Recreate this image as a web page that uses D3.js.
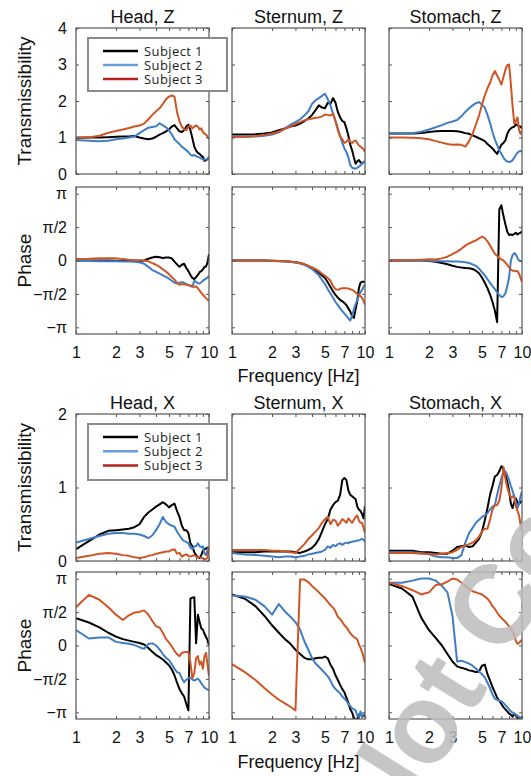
<!DOCTYPE html>
<html><head><meta charset="utf-8">
<script src="https://cdn.jsdelivr.net/npm/d3@7"></script>
<style>
body{margin:0;background:#fff}
svg text{font-family:"Liberation Sans",Arial,Helvetica,sans-serif}
</style></head><body>
<svg id="chart" width="531" height="776"></svg>
<script>
// ---------- data ----------
const freq=[1,1.25,1.5,1.75,2,2.25,2.5,2.75,3,3.25,3.5,3.75,4,4.25,4.5,4.75,5,5.25,5.5,5.75,6,6.25,6.5,6.75,7,7.25,7.5,7.75,8,8.25,8.5,8.75,9,9.25,9.5,9.75,10];

// Transmissibility, Z
const headZ_T1=[0.99,1.0,1.0,1.01,1.02,1.03,1.03,1.04,1.0,0.97,0.95,0.97,1.02,1.08,1.12,1.17,1.22,1.3,1.34,1.25,1.17,1.15,1.2,1.3,1.35,1.2,0.98,0.75,0.64,0.58,0.55,0.5,0.47,0.36,0.38,0.41,0.45];
const headZ_T2=[0.93,0.91,0.9,0.91,0.95,0.97,1.0,1.03,1.12,1.2,1.27,1.29,1.31,1.39,1.33,1.28,1.2,1.08,0.95,0.88,0.82,0.75,0.7,0.65,0.6,0.53,0.5,0.52,0.49,0.47,0.45,0.42,0.4,0.39,0.4,0.42,0.47];
const headZ_T3=[1.0,1.0,1.05,1.13,1.18,1.22,1.26,1.3,1.33,1.38,1.5,1.62,1.72,1.8,1.92,2.05,2.12,2.15,2.12,1.7,1.45,1.3,1.22,1.2,1.3,1.33,1.25,1.3,1.33,1.3,1.22,1.25,1.15,1.1,1.08,1.02,0.97];
const sternZ_T1=[1.08,1.08,1.09,1.11,1.14,1.2,1.25,1.3,1.33,1.38,1.45,1.52,1.62,1.75,1.88,1.82,1.8,1.95,1.92,2.08,1.95,1.7,1.55,1.45,1.42,1.25,1.05,0.8,0.65,0.45,0.28,0.35,0.38,0.32,0.3,0.32,0.35];
const sternZ_T2=[1.02,1.02,1.03,1.05,1.08,1.14,1.25,1.35,1.42,1.5,1.6,1.72,1.92,2.02,2.08,2.14,2.2,2.05,1.88,1.65,1.45,1.25,1.05,0.85,0.7,0.6,0.45,0.25,0.17,0.15,0.15,0.17,0.2,0.24,0.28,0.32,0.36];
const sternZ_T3=[1.02,1.02,1.04,1.07,1.11,1.16,1.24,1.3,1.37,1.42,1.47,1.5,1.52,1.54,1.55,1.58,1.63,1.62,1.6,1.66,1.45,1.2,1.02,0.95,0.85,0.88,0.95,0.88,0.85,0.9,0.92,0.85,0.78,0.75,0.72,0.68,0.6];
const stomZ_T1=[1.11,1.11,1.11,1.12,1.15,1.17,1.18,1.18,1.18,1.17,1.15,1.12,1.1,1.06,1.02,0.98,0.94,0.9,0.82,0.76,0.7,0.62,0.55,0.68,0.8,0.85,0.92,1.1,1.2,1.25,1.28,1.3,1.36,1.33,1.3,1.3,1.25];
const stomZ_T2=[1.11,1.11,1.12,1.16,1.22,1.28,1.34,1.4,1.44,1.48,1.58,1.7,1.8,1.88,1.94,1.97,1.9,1.82,1.62,1.4,1.15,0.95,0.8,0.65,0.55,0.45,0.38,0.34,0.33,0.34,0.38,0.45,0.52,0.58,0.62,0.63,0.62];
const stomZ_T3=[1.0,1.0,0.99,0.98,0.95,0.9,0.86,0.82,0.8,0.81,0.8,0.75,0.9,1.1,1.35,1.6,1.9,2.15,2.35,2.5,2.7,2.82,2.7,2.58,2.45,2.65,2.85,2.98,3.0,2.45,1.85,1.38,1.45,1.55,1.2,1.1,1.18];

// Phase, Z (radians)
const headZ_P1=[0,0,0,0,-0.01,-0.02,-0.02,-0.02,-0.02,0.0,0.08,0.14,0.18,0.15,0.12,0.14,0.14,0.1,-0.05,-0.18,-0.3,-0.2,-0.15,-0.35,-0.5,-0.68,-0.82,-0.88,-0.78,-0.68,-0.55,-0.5,-0.42,-0.3,-0.28,-0.1,0.3];
const headZ_P2=[-0.01,-0.02,-0.03,-0.03,-0.04,-0.05,-0.05,-0.06,-0.08,-0.15,-0.3,-0.45,-0.53,-0.62,-0.7,-0.77,-0.85,-0.95,-1.05,-1.08,-1.05,-1.02,-1.05,-1.12,-1.15,-1.2,-1.24,-0.95,-1.0,-1.07,-1.08,-1.02,-0.95,-0.9,-0.85,-0.8,-0.72];
const headZ_P3=[0.07,0.08,0.1,0.11,0.1,0.07,0.04,0.02,0.01,0,-0.04,-0.12,-0.2,-0.3,-0.42,-0.52,-0.65,-0.78,-0.9,-1.05,-1.14,-1.12,-1.12,-1.14,-1.16,-1.18,-1.2,-1.24,-1.22,-1.3,-1.42,-1.52,-1.6,-1.7,-1.77,-1.84,-1.9];
const sternZ_P1=[0,0,0,0,-0.01,-0.02,-0.04,-0.06,-0.08,-0.12,-0.18,-0.26,-0.35,-0.45,-0.58,-0.7,-0.82,-1.02,-1.25,-1.45,-1.62,-1.75,-1.85,-1.92,-2.0,-2.1,-2.25,-2.4,-2.6,-2.7,-2.3,-1.9,-1.3,-1.05,-1.0,-1.0,-1.02];
const sternZ_P2=[0,0,0,-0.01,-0.02,-0.03,-0.05,-0.07,-0.1,-0.14,-0.2,-0.3,-0.4,-0.55,-0.7,-0.92,-1.1,-1.35,-1.55,-1.75,-1.95,-2.1,-2.25,-2.38,-2.5,-2.6,-2.72,-2.82,-2.6,-2.3,-2.05,-1.85,-1.65,-1.5,-1.38,-1.25,-1.12];
const sternZ_P3=[0,0,0,0,-0.01,-0.02,-0.03,-0.05,-0.08,-0.12,-0.18,-0.25,-0.32,-0.4,-0.5,-0.62,-0.72,-0.82,-0.95,-1.2,-1.35,-1.38,-1.33,-1.3,-1.3,-1.3,-1.32,-1.35,-1.38,-1.43,-1.5,-1.57,-1.63,-1.68,-1.75,-1.9,-2.08];
const stomZ_P1=[0,0,0,0,-0.02,-0.06,-0.12,-0.18,-0.25,-0.3,-0.33,-0.35,-0.36,-0.4,-0.48,-0.6,-0.8,-1.05,-1.3,-1.6,-1.95,-2.35,-2.9,2.4,2.6,2.1,1.7,1.35,1.2,1.22,1.2,1.25,1.3,1.22,1.28,1.3,1.38];
const stomZ_P2=[0,0,0,0,-0.01,-0.02,-0.03,-0.04,-0.05,-0.05,-0.06,-0.08,-0.12,-0.18,-0.25,-0.38,-0.55,-0.7,-0.88,-1.05,-1.2,-1.35,-1.5,-1.62,-1.72,-1.68,-1.55,-1.2,-0.8,0.0,0.25,0.35,0.28,0.12,0.0,-0.03,-0.05];
const stomZ_P3=[0,0.01,0.02,0.04,0.06,0.05,0.1,0.18,0.3,0.42,0.55,0.7,0.8,0.88,0.95,1.04,1.12,1.05,0.9,0.7,0.5,0.32,0.22,0.12,0.05,0.0,-0.1,-0.2,-0.32,-0.42,-0.48,-0.48,-0.5,-0.5,-0.62,-0.82,-1.0];

// Transmissibility, X
const headX_T1=[0.16,0.27,0.36,0.41,0.42,0.43,0.44,0.46,0.5,0.6,0.66,0.7,0.74,0.77,0.8,0.77,0.73,0.76,0.78,0.68,0.6,0.48,0.42,0.42,0.38,0.24,0.2,0.12,0.08,0.05,0.04,0.08,0.14,0.16,0.17,0.18,0.19];
const headX_T2=[0.25,0.3,0.34,0.37,0.38,0.38,0.37,0.37,0.36,0.34,0.31,0.35,0.42,0.5,0.6,0.53,0.5,0.48,0.47,0.4,0.35,0.3,0.27,0.26,0.24,0.18,0.16,0.2,0.2,0.24,0.2,0.19,0.2,0.1,0.08,0.15,0.2];
const headX_T3=[0.04,0.07,0.1,0.11,0.1,0.08,0.07,0.05,0.04,0.05,0.07,0.08,0.1,0.11,0.12,0.13,0.13,0.15,0.16,0.1,0.11,0.06,0.08,0.09,0.07,0.06,0.07,0.08,0.06,0.05,0.05,0.04,0.04,0.02,0.03,0.04,0.2];
const sternX_T1=[0.12,0.12,0.12,0.13,0.13,0.13,0.13,0.13,0.12,0.11,0.13,0.15,0.18,0.23,0.3,0.4,0.5,0.57,0.7,0.76,0.8,0.82,0.9,1.1,1.13,1.1,0.96,0.9,0.88,0.86,0.84,0.74,0.7,0.68,0.64,0.58,0.75];
const sternX_T2=[0.11,0.09,0.08,0.07,0.06,0.05,0.06,0.06,0.05,0.06,0.07,0.09,0.1,0.11,0.12,0.13,0.15,0.2,0.18,0.22,0.2,0.23,0.24,0.22,0.24,0.25,0.24,0.26,0.26,0.27,0.27,0.28,0.28,0.29,0.3,0.29,0.26];
const sternX_T3=[0.15,0.15,0.15,0.15,0.14,0.14,0.13,0.12,0.11,0.17,0.23,0.3,0.35,0.4,0.45,0.52,0.57,0.6,0.5,0.56,0.55,0.48,0.52,0.57,0.55,0.52,0.58,0.55,0.52,0.56,0.6,0.62,0.55,0.52,0.52,0.45,0.38];
const stomX_T1=[0.14,0.14,0.14,0.12,0.12,0.11,0.1,0.1,0.14,0.19,0.2,0.21,0.19,0.2,0.25,0.3,0.4,0.55,0.72,0.9,1.02,1.15,1.17,1.22,1.29,1.25,1.18,1.08,0.95,0.78,0.72,0.8,0.85,0.8,0.78,0.8,0.82];
const stomX_T2=[0.12,0.12,0.12,0.11,0.09,0.06,0.05,0.05,0.04,0.04,0.08,0.25,0.38,0.45,0.52,0.56,0.6,0.62,0.65,0.7,0.74,0.76,0.9,1.02,1.13,1.2,1.22,1.17,1.1,1.02,0.95,0.88,0.8,0.72,0.78,0.88,0.95];
const stomX_T3=[0.11,0.11,0.11,0.1,0.1,0.09,0.1,0.11,0.12,0.15,0.19,0.21,0.23,0.25,0.28,0.33,0.4,0.44,0.44,0.56,0.7,0.76,0.76,0.82,0.98,1.28,1.12,1.0,0.92,0.86,0.88,0.86,0.74,0.68,0.62,0.5,0.4];

// Phase, X (radians)
const headX_P1=[1.28,1.08,0.85,0.6,0.42,0.3,0.23,0.17,0.12,0.05,-0.12,-0.3,-0.45,-0.55,-0.66,-0.8,-0.93,-1.13,-1.4,-1.75,-2.05,-2.25,-2.4,-2.75,-3.05,2.2,2.25,2.27,0.1,1.45,1.1,0.8,0.75,0.55,0.4,0.25,0.0];
const headX_P2=[0.73,0.33,0.38,0.38,0.17,0.12,0.08,0.02,-0.08,-0.16,0.08,0.1,0.0,-0.18,-0.4,-0.58,-0.68,-0.88,-1.1,-1.25,-1.3,-1.55,-1.72,-1.6,-1.55,-1.52,-1.6,-1.65,-1.6,-1.56,-1.65,-1.78,-1.88,-1.98,-2.03,-2.07,-2.1];
const headX_P3=[1.8,2.38,2.15,1.8,1.45,1.2,1.42,1.55,1.58,1.65,1.45,1.15,0.9,0.85,0.6,0.3,0.15,-0.05,-0.25,-0.4,-0.5,-0.35,-0.32,-0.3,-0.3,-0.8,-1.55,-1.3,-0.6,-0.5,-0.9,-0.75,-1.1,-0.5,-0.35,-0.9,-1.45];
const sternX_P1=[2.4,2.2,1.85,1.4,0.95,0.6,0.3,0.08,-0.2,-0.4,-0.58,-0.65,-0.65,-0.6,-0.58,-0.58,-0.52,-0.6,-0.9,-1.1,-1.4,-1.62,-1.85,-2.05,-2.2,-2.45,-2.7,-3.0,-3.15,-3.4,-3.5,-3.45,-3.25,-3.2,-3.35,-3.3,-3.3];
const sternX_P2=[2.35,2.3,2.15,1.85,1.45,1.95,1.6,1.35,1.1,0.75,0.2,-0.2,-0.6,-0.85,-1.0,-1.15,-1.3,-1.45,-1.65,-1.9,-2.05,-2.15,-2.25,-2.4,-2.5,-2.6,-2.75,-2.85,-2.95,-3.0,-3.05,-3.3,-3.35,-3.1,-3.35,-3.25,-3.2];
const sternX_P3=[-0.88,-1.25,-1.62,-2.0,-2.3,-2.55,-2.72,-2.88,-3.05,3.1,3.1,2.98,2.8,2.65,2.5,2.35,2.22,2.05,1.9,1.78,1.6,1.35,1.25,1.1,0.95,0.85,0.72,0.58,0.48,0.4,0.35,0.28,0.05,-0.1,-0.3,-0.55,-0.82];
const stomX_P1=[2.9,2.68,2.3,1.3,0.72,0.35,0.0,-0.4,-0.75,-0.98,-1.05,-1.1,-1.17,-1.2,-1.25,-1.22,-0.95,-0.9,-1.35,-1.65,-1.95,-2.2,-2.45,-2.6,-2.75,-2.9,-3.0,-3.1,-3.2,-3.25,-3.35,-3.2,-3.3,-3.42,-3.45,-3.4,-3.38];
const stomX_P2=[2.95,2.95,3.05,3.15,3.15,3.05,2.8,2.5,1.4,-0.75,-0.72,-0.78,-0.85,-0.95,-1.08,-1.22,-1.35,-1.5,-1.75,-2.0,-2.3,-2.5,-2.55,-2.6,-2.62,-2.7,-2.8,-2.9,-3.0,-3.1,-3.15,-3.2,-3.25,-3.3,-3.35,-3.4,-3.42];
const stomX_P3=[2.95,2.8,2.6,2.4,2.5,2.85,2.88,3.0,3.15,3.1,2.95,2.8,2.65,2.55,2.5,2.45,2.4,2.3,2.2,2.05,1.85,1.72,1.55,1.4,1.3,1.2,1.12,1.0,0.9,0.78,0.65,0.5,0.2,0.08,0.12,0.2,0.28];

// labels / ticks
const subjects=['Subject 1','Subject 2','Subject 3'];
const titlesZ=['Head, Z','Sternum, Z','Stomach, Z'];
const titlesX=['Head, X','Sternum, X','Stomach, X'];
const xTickLabels=[1,2,3,5,7,10];
const xMinorTicks=[1,2,3,4,5,6,7,8,9,10];
const transZTicks=[0,1,2,3,4];
const transXTicks=[0,1,2];
const phaseTicks=[-Math.PI,-Math.PI/2,0,Math.PI/2,Math.PI];
const phaseTickLabels=['\u2212\u03c0','\u2212\u03c0/2','0','\u03c0/2','\u03c0'];

// ---------- styling / layout ----------
const lineColors=['#000000','#3f7dc5','#cf5624'];
const legendColors=['#000000','#6a9fdc','#b4221b'];
const colLeft=[76,232,389];
const PW=133;
const PI=Math.PI;
const rows=[
  {top:28,bottom:174,domain:[0,4],ticks:transZTicks,fmt:d=>String(d),label:'Transmissibility',
   data:[[headZ_T1,headZ_T2,headZ_T3],[sternZ_T1,sternZ_T2,sternZ_T3],[stomZ_T1,stomZ_T2,stomZ_T3]],titles:titlesZ,titleY:23,legend:true},
  {top:187,bottom:334,domain:[-1.1*PI,1.1*PI],ticks:phaseTicks,fmt:(d,i)=>phaseTickLabels[i],label:'Phase',
   data:[[headZ_P1,headZ_P2,headZ_P3],[sternZ_P1,sternZ_P2,sternZ_P3],[stomZ_P1,stomZ_P2,stomZ_P3]],xlabels:true,xlabY:358,freqY:382},
  {top:414,bottom:561,domain:[0,2],ticks:transXTicks,fmt:d=>String(d),label:'Transmissibility',
   data:[[headX_T1,headX_T2,headX_T3],[sternX_T1,sternX_T2,sternX_T3],[stomX_T1,stomX_T2,stomX_T3]],titles:titlesX,titleY:409,legend:true},
  {top:572,bottom:719,domain:[-1.1*PI,1.1*PI],ticks:phaseTicks,fmt:(d,i)=>phaseTickLabels[i],label:'Phase',
   data:[[headX_P1,headX_P2,headX_P3],[sternX_P1,sternX_P2,sternX_P3],[stomX_P1,stomX_P2,stomX_P3]],xlabels:true,xlabY:746,freqY:768}
];

const svg=d3.select('#chart');
const defs=svg.append('defs');
const axisColor='#555';

rows.forEach((row,ri)=>{
  const y=d3.scaleLinear().domain(row.domain).range([row.bottom,row.top]);
  colLeft.forEach((left,ci)=>{
    const x=d3.scaleLog().domain([1,10]).range([left,left+PW]);
    const id=`clip-${ri}-${ci}`;
    defs.append('clipPath').attr('id',id).append('rect')
      .attr('x',left).attr('y',row.top).attr('width',PW).attr('height',row.bottom-row.top);
    const g=svg.append('g');
    // data lines
    const line=d3.line().defined(d=>d[1]!=null).x(d=>x(d[0])).y(d=>y(d[1]));
    const lg=g.append('g').attr('clip-path',`url(#${id})`);
    row.data[ci].forEach((vals,si)=>{
      lg.append('path').datum(freq.map((f,i)=>[f,vals[i]]))
        .attr('d',line).attr('fill','none').attr('stroke',lineColors[si])
        .attr('stroke-width',2).attr('stroke-linejoin','round');
    });
    // axes (inner ticks)
    const ax=g.append('g');
    const bottomAx=d3.axisBottom(x).tickValues(xMinorTicks).tickSizeInner(-3).tickSizeOuter(0)
      .tickPadding(13).tickFormat(d=>row.xlabels&&xTickLabels.includes(d)?String(d):'');
    ax.append('g').attr('transform',`translate(0,${row.bottom})`).call(bottomAx);
    ax.append('g').attr('transform',`translate(0,${row.top})`)
      .call(d3.axisTop(x).tickValues(xMinorTicks).tickSizeInner(-3).tickSizeOuter(0).tickFormat(''));
    ax.append('g').attr('transform',`translate(${left},0)`)
      .call(d3.axisLeft(y).tickValues(row.ticks).tickSizeInner(-3).tickSizeOuter(0).tickPadding(9)
        .tickFormat((d,i)=>ci===0?row.fmt(d,i):''));
    ax.append('g').attr('transform',`translate(${left+PW},0)`)
      .call(d3.axisRight(y).tickValues(row.ticks).tickSizeInner(-3).tickSizeOuter(0).tickFormat(''));
    ax.selectAll('.domain').remove();
    ax.selectAll('.tick line').attr('stroke',axisColor);
    ax.selectAll('.tick text').attr('fill','#111').style('font-size','16px')
      .style('font-family','"Liberation Sans",Arial,sans-serif');
    g.append('rect').attr('x',left).attr('y',row.top).attr('width',PW).attr('height',row.bottom-row.top)
      .attr('fill','none').attr('stroke',axisColor).attr('stroke-width',1.2);
    if(row.titles){
      svg.append('text').attr('x',left+PW/2).attr('y',row.titleY).attr('text-anchor','middle')
        .style('font-size','18px').attr('fill','#111').text(row.titles[ci]);
    }
    if(row.freqY && ci===1){
      svg.append('text').attr('x',left+PW/2).attr('y',row.freqY).attr('text-anchor','middle')
        .style('font-size','18px').attr('fill','#111').text('Frequency [Hz]');
    }
    if(row.legend && ci===0){
      const lgX=88, lgY=row.top+10, lgW=139, lgH=(ri===0?53:56);
      const leg=svg.append('g');
      leg.append('rect').attr('x',lgX).attr('y',lgY).attr('width',lgW).attr('height',lgH)
        .attr('fill','#fff').attr('stroke','#8a8a8a').attr('stroke-width',2);
      subjects.forEach((s,si)=>{
        const yy=lgY+13+si*(ri===0?14:14.3);
        leg.append('line').attr('x1',103).attr('x2',138).attr('y1',yy).attr('y2',yy)
          .attr('stroke',legendColors[si]).attr('stroke-width',2.5);
        leg.append('text').attr('x',144).attr('y',yy).attr('dy','0.35em')
          .style('font-family','"Open Sans",sans-serif').style('font-size','13px')
          .style('letter-spacing','0.4px').attr('fill','#222').text(s);
      });
    }
  });
  svg.append('text').attr('transform',`translate(31,${(row.top+row.bottom)/2}) rotate(-90)`)
    .attr('text-anchor','middle').style('font-size','19px').attr('fill','#111').text(row.label);
});

// watermark
svg.append('text').attr('transform','translate(390,845) rotate(-58)')
  .style('font-size','112px').style('font-weight','bold').attr('fill','#bdbdbd').attr('opacity',0.85)
  .text('Not Copyedited');
</script>
</body></html>
